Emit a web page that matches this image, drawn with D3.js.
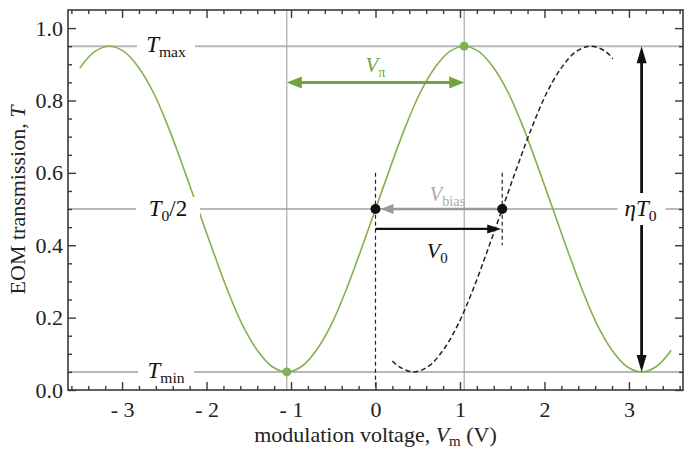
<!DOCTYPE html>
<html>
<head>
<script src="https://cdnjs.cloudflare.com/ajax/libs/d3/7.8.5/d3.min.js"></script>
<style>
  body { margin: 0; background: #fff; }
  svg text { font-family: "Liberation Serif", "Times New Roman", Times, serif; }
</style>
</head>
<body>
<script>
// values
let greenV = [-3.5, -3.325, -3.15, -2.975, -2.8, -2.625, -2.45, -2.275, -2.1, -1.925,
              -1.75, -1.575, -1.4, -1.225, -1.05, -0.875, -0.7, -0.525, -0.35, -0.175,
              0, 0.175, 0.35, 0.525, 0.7, 0.875, 1.05, 1.225, 1.4, 1.575,
              1.75, 1.925, 2.1, 2.275, 2.45, 2.625, 2.8, 2.975, 3.15, 3.325, 3.5];
let greenT = [0.89, 0.935, 0.95, 0.935, 0.89, 0.82, 0.725, 0.615, 0.5, 0.385,
              0.275, 0.18, 0.11, 0.065, 0.05, 0.065, 0.11, 0.18, 0.275, 0.385,
              0.5, 0.615, 0.725, 0.82, 0.89, 0.935, 0.95, 0.935, 0.89, 0.82,
              0.725, 0.615, 0.5, 0.385, 0.275, 0.18, 0.11, 0.065, 0.05, 0.065, 0.11];
let dashV = [0.2, 0.275, 0.45, 0.625, 0.8, 0.975, 1.15, 1.325, 1.5, 1.675,
             1.85, 2.025, 2.2, 2.375, 2.55, 2.725, 2.81];
let dashT = [0.08, 0.065, 0.05, 0.065, 0.11, 0.18, 0.275, 0.385, 0.5, 0.615,
             0.725, 0.82, 0.89, 0.935, 0.95, 0.935, 0.915];

let levelT = [0.95, 0.5, 0.05];          // Tmax, T0/2, Tmin
let peakV = [-1.05, 1.05];               // min / max of green curve
let vPiY = 0.85;
let v0 = 1.5, v0Y = 0.445;
let etaV = 3.15;

let xMajor = [-3, -2, -1, 0, 1, 2, 3];
let yMajor = [0, 0.2, 0.4, 0.6, 0.8, 1.0];

const W = 689, H = 450;
const x = d3.scaleLinear().domain([-3.64, 3.64]).range([68, 683]);
const y = d3.scaleLinear().domain([0, 1.05]).range([390, 10]);

const green = "#82b152", greenDark = "#6fa43f", refGray = "#b8b8b8", frame = "#3a3a3a";
const serif = '"Liberation Serif", "Times New Roman", Times, serif';

let svg = d3.select("body").append("svg")
    .attr("width", W).attr("height", H);

// reference lines
svg.selectAll("line.level")
    .data(levelT)
    .enter().append("line")
    .attr("x1", x(-3.64)).attr("x2", x(3.64))
    .attr("y1", d => y(d)).attr("y2", d => y(d))
    .attr("stroke", refGray).attr("stroke-width", 2);

svg.selectAll("line.peak")
    .data(peakV)
    .enter().append("line")
    .attr("x1", d => x(d)).attr("x2", d => x(d))
    .attr("y1", y(0)).attr("y2", y(1.05))
    .attr("stroke", "#999").attr("stroke-width", 1);

// curves
let line = d3.line()
    .x(d => x(d[0]))
    .y(d => y(d[1]))
    .curve(d3.curveCatmullRom);

svg.append("path")
    .attr("d", line(d3.zip(greenV, greenT)))
    .attr("fill", "none").attr("stroke", green).attr("stroke-width", 1.6);

svg.append("path")
    .attr("d", line(d3.zip(dashV, dashT)))
    .attr("fill", "none").attr("stroke", "#222").attr("stroke-width", 1.5)
    .attr("stroke-dasharray", "5,3");

// dashed markers
svg.append("line")
    .attr("x1", x(0)).attr("x2", x(0)).attr("y1", y(0.6)).attr("y2", y(0))
    .attr("stroke", "#222").attr("stroke-width", 1.2).attr("stroke-dasharray", "4,3");
svg.append("line")
    .attr("x1", x(v0)).attr("x2", x(v0)).attr("y1", y(0.6)).attr("y2", y(0.4))
    .attr("stroke", "#222").attr("stroke-width", 1.2).attr("stroke-dasharray", "4,3");

// arrow helper: tip at (tx,ty), pointing direction (dx,dy)
function head(tx, ty, dx, dy, len, wid, color) {
  let px = -dy, py = dx;
  let bx = tx - dx * len, by = ty - dy * len;
  svg.append("path")
    .attr("d", `M${tx},${ty}L${bx + px * wid / 2},${by + py * wid / 2}L${bx - px * wid / 2},${by - py * wid / 2}Z`)
    .attr("fill", color);
}

// V_pi arrow
svg.append("line")
    .attr("x1", x(peakV[0]) + 10).attr("x2", x(peakV[1]) - 10)
    .attr("y1", y(vPiY)).attr("y2", y(vPiY))
    .attr("stroke", greenDark).attr("stroke-width", 3);
head(x(peakV[0]), y(vPiY), -1, 0, 15, 12, greenDark);
head(x(peakV[1]), y(vPiY), 1, 0, 15, 12, greenDark);

// V_bias arrow (gray, pointing left)
svg.append("line")
    .attr("x1", x(v0)).attr("x2", x(0) + 14)
    .attr("y1", y(0.5)).attr("y2", y(0.5))
    .attr("stroke", "#999").attr("stroke-width", 2.5);
head(x(0) + 5, y(0.5), -1, 0, 13, 10, "#999");

// V0 arrow (black, pointing right)
svg.append("line")
    .attr("x1", x(0)).attr("x2", x(v0) - 8)
    .attr("y1", y(v0Y)).attr("y2", y(v0Y))
    .attr("stroke", "#111").attr("stroke-width", 2.2);
head(x(v0) - 1, y(v0Y), 1, 0, 14, 9, "#111");

// eta T0 arrow
svg.append("line")
    .attr("x1", x(etaV)).attr("x2", x(etaV))
    .attr("y1", y(levelT[0]) + 10).attr("y2", y(levelT[2]) - 10)
    .attr("stroke", "#111").attr("stroke-width", 2.8);
head(x(etaV), y(levelT[0]), 0, -1, 17, 10, "#111");
head(x(etaV), y(levelT[2]), 0, 1, 17, 10, "#111");

// dots
svg.selectAll("circle.g")
    .data([[peakV[0], levelT[2]], [peakV[1], levelT[0]]])
    .enter().append("circle")
    .attr("cx", d => x(d[0])).attr("cy", d => y(d[1])).attr("r", 4.5)
    .attr("fill", green);
svg.selectAll("circle.k")
    .data([[0, 0.5], [v0, 0.5]])
    .enter().append("circle")
    .attr("cx", d => x(d[0])).attr("cy", d => y(d[1])).attr("r", 5)
    .attr("fill", "#111");

// labels with white boxes
function box(cx, cy, bw, bh) {
  svg.append("rect")
    .attr("x", cx - bw / 2).attr("y", cy - bh / 2).attr("width", bw).attr("height", bh)
    .attr("fill", "#fff");
}
function mathText(cx, by, main, sub, tail, color, size) {
  let t = svg.append("text")
    .attr("x", cx).attr("y", by)
    .attr("text-anchor", "middle")
    .style("font-family", serif)
    .attr("font-size", size).attr("fill", color);
  t.append("tspan").attr("font-style", "italic").text(main);
  if (sub) t.append("tspan").attr("font-size", size * 0.68).attr("dy", 5).text(sub);
  if (tail) t.append("tspan").attr("dy", sub ? -5 : 0).text(tail);
  return t;
}

let lx = 166;
box(lx, y(levelT[0]), 58, 24);
mathText(lx, y(levelT[0]) + 6, "T", "max", null, "#111", 23);
box(lx + 2, y(levelT[1]), 64, 24);
mathText(lx + 2, y(levelT[1]) + 7, "T", "0", "/2", "#111", 23);
box(lx, y(levelT[2]), 56, 20);
mathText(lx, y(levelT[2]) + 6, "T", "min", null, "#111", 23);

box(x(etaV), y(0.5), 48, 32);
mathText(x(etaV) - 1, y(0.5) + 7, "\u03b7T", "0", null, "#111", 23);

mathText(x(0), y(vPiY) - 10, "V", "\u03c0", null, greenDark, 21);
mathText(x(0.85), y(0.5) - 8, "V", "bias", null, "#aaa", 21);
mathText(x(0.73), y(v0Y) + 29, "V", "0", null, "#111", 22);

// frame and ticks
svg.append("rect")
    .attr("x", x(-3.64)).attr("y", y(1.05))
    .attr("width", x(3.64) - x(-3.64)).attr("height", y(0) - y(1.05))
    .attr("fill", "none").attr("stroke", frame).attr("stroke-width", 1.6);

let xMinor = d3.range(-3.6, 3.61, 0.2).filter(v => Math.abs(v - Math.round(v)) > 0.01);
let yMinor = d3.range(0.05, 1.05, 0.05).filter(v => Math.abs(v * 5 - Math.round(v * 5)) > 0.01);

function styleAxis(g) {
  g.attr("font-family", null);
  g.select(".domain").remove();
  g.selectAll(".tick line").attr("stroke", frame).attr("stroke-width", 1.4);
  g.selectAll("text").attr("font-size", 22).attr("fill", "#222")
    .style("font-family", serif);
}

svg.append("g").attr("transform", `translate(0,${y(0)})`)
  .call(d3.axisBottom(x).tickValues(xMajor).tickSize(-8).tickPadding(11)
        .tickFormat(d => d < 0 ? "- " + Math.abs(d) : d))
  .call(styleAxis);
svg.append("g").attr("transform", `translate(0,${y(0)})`)
  .call(d3.axisBottom(x).tickValues(xMinor).tickSize(-4).tickFormat(""))
  .call(styleAxis);
svg.append("g").attr("transform", `translate(0,${y(1.05)})`)
  .call(d3.axisTop(x).tickValues(xMajor).tickSize(-8).tickFormat(""))
  .call(styleAxis);
svg.append("g").attr("transform", `translate(0,${y(1.05)})`)
  .call(d3.axisTop(x).tickValues(xMinor).tickSize(-4).tickFormat(""))
  .call(styleAxis);

svg.append("g").attr("transform", `translate(${x(-3.64)},0)`)
  .call(d3.axisLeft(y).tickValues(yMajor).tickSize(-8).tickPadding(5)
        .tickFormat(d3.format(".1f")))
  .call(styleAxis);
svg.append("g").attr("transform", `translate(${x(-3.64)},0)`)
  .call(d3.axisLeft(y).tickValues(yMinor).tickSize(-4).tickFormat(""))
  .call(styleAxis);
svg.append("g").attr("transform", `translate(${x(3.64)},0)`)
  .call(d3.axisRight(y).tickValues(yMajor).tickSize(-8).tickFormat(""))
  .call(styleAxis);
svg.append("g").attr("transform", `translate(${x(3.64)},0)`)
  .call(d3.axisRight(y).tickValues(yMinor).tickSize(-4).tickFormat(""))
  .call(styleAxis);

// axis titles
let xt = svg.append("text")
    .attr("x", (x(-3.64) + x(3.64)) / 2).attr("y", 442)
    .attr("text-anchor", "middle").attr("font-size", 22).attr("fill", "#222")
    .style("font-family", serif);
xt.append("tspan").text("modulation voltage, ");
xt.append("tspan").attr("font-style", "italic").text("V");
xt.append("tspan").attr("font-size", 15).attr("dy", 4).text("m");
xt.append("tspan").attr("dy", -4).text(" (V)");

let yt = svg.append("text")
    .attr("transform", `translate(25,${(y(0) + y(1.05)) / 2}) rotate(-90)`)
    .attr("text-anchor", "middle").attr("font-size", 22).attr("fill", "#222")
    .style("font-family", serif);
yt.append("tspan").text("EOM transmission, ");
yt.append("tspan").attr("font-style", "italic").text("T");
</script>
</body>
</html>
